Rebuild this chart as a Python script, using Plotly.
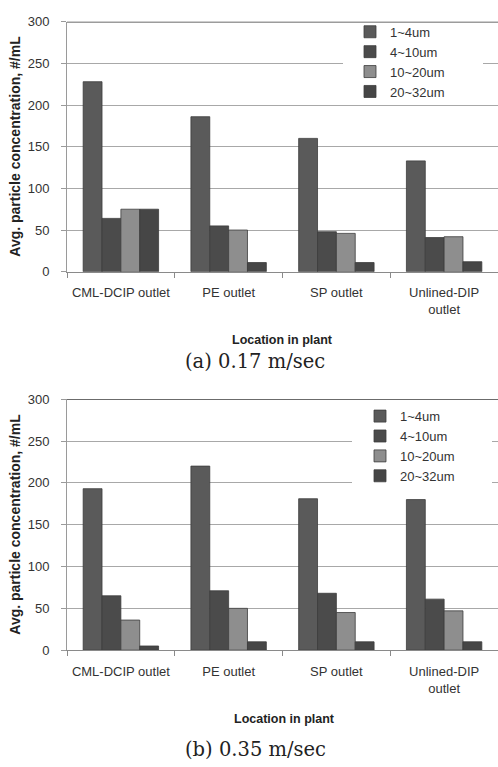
import plotly.graph_objects as go

categories = ["CML-DCIP outlet", "PE outlet", "SP outlet", "Unlined-DIP<br>outlet"]
series_names = ["1~4um", "4~10um", "10~20um", "20~32um"]

# (a) 0.17 m/sec
a_1_4 = [228, 186, 160, 133]
a_4_10 = [64, 55, 48, 41]
a_10_20 = [75, 50, 46, 42]
a_20_32 = [75, 11, 11, 12]

# (b) 0.35 m/sec
b_1_4 = [193, 220, 181, 180]
b_4_10 = [65, 71, 68, 61]
b_10_20 = [36, 50, 45, 47]
b_20_32 = [5, 10, 10, 10]

y_ticks = [0, 50, 100, 150, 200, 250, 300]
captions = ["(a) 0.17 m/sec", "(b) 0.35 m/sec"]

colors = ["#5a5a5a", "#4b4b4b", "#8e8e8e", "#464646"]

W, H = 498, 767
def py(px):
    return 1 - px / H
def px_(x):
    return x / W

fig = go.Figure()

panels = [
    ([a_1_4, a_4_10, a_10_20, a_20_32], "x", "y", "legend"),
    ([b_1_4, b_4_10, b_10_20, b_20_32], "x2", "y2", "legend2"),
]
for vals, xa, ya, lg in panels:
    for name, v, c in zip(series_names, vals, colors):
        fig.add_trace(go.Bar(
            x=categories, y=v, name=name, xaxis=xa, yaxis=ya, legend=lg,
            marker=dict(color=c, line=dict(color="#3c3c3c", width=0.8)),
        ))

font_sans = "Liberation Sans, Arial, sans-serif"

def xaxis_cfg(anchor):
    return dict(
        anchor=anchor, domain=[px_(67), 1.0], type="category",
        showline=True, linecolor="#8a8a8a", linewidth=1,
        ticks="outside", tickson="boundaries", ticklen=5, tickcolor="#8a8a8a",
        tickfont=dict(family=font_sans, size=13, color="#333333"),
        ticklabelstandoff=9, showgrid=False, fixedrange=True,
    )

def yaxis_cfg(anchor, top_px, bot_px):
    return dict(
        anchor=anchor, domain=[py(bot_px), py(top_px)], range=[0, 300],
        tickvals=y_ticks, showline=True, linecolor="#9a9a9a", linewidth=1,
        ticks="outside", ticklen=5, tickcolor="#9a9a9a",
        tickfont=dict(family=font_sans, size=13, color="#333333"),
        ticklabelstandoff=9, showgrid=True, gridcolor="#a8a8a8", gridwidth=1,
        zeroline=False, fixedrange=True,
    )

top_a, bot_a = 15, 270
top_b, bot_b = 400, 656

fig.update_layout(
    width=W, height=H, margin=dict(l=0, r=0, t=0, b=0),
    paper_bgcolor="white", plot_bgcolor="white",
    barmode="group", bargap=0.3, bargroupgap=0.0,
    xaxis=xaxis_cfg("y"), yaxis=yaxis_cfg("x", top_a, bot_a),
    xaxis2=xaxis_cfg("y2"), yaxis2=yaxis_cfg("x2", top_b, bot_b),
    legend=dict(x=px_(350), y=py(10), xanchor="left", yanchor="top",
                bgcolor="rgba(0,0,0,0)", font=dict(family=font_sans, size=13, color="#333333"),
                tracegroupgap=0),
    legend2=dict(x=px_(360), y=py(402), xanchor="left", yanchor="top",
                 bgcolor="rgba(0,0,0,0)", font=dict(family=font_sans, size=13, color="#333333"),
                 tracegroupgap=0),
    showlegend=True,
)

shapes = [
    # white legend backgrounds interrupting gridlines
    dict(type="rect", xref="paper", yref="paper", x0=px_(343), x1=px_(483), y0=py(97), y1=py(20),
         fillcolor="white", line=dict(width=0), layer="above"),
    dict(type="rect", xref="paper", yref="paper", x0=px_(352), x1=px_(492), y0=py(490), y1=py(403),
         fillcolor="white", line=dict(width=0), layer="above"),
    # dark top lines at 300
    dict(type="line", xref="x domain", yref="y", x0=0, x1=1, y0=300, y1=300,
         line=dict(color="#3a3a3a", width=1.5), layer="above"),
    dict(type="line", xref="x2 domain", yref="y2", x0=0, x1=1, y0=300, y1=300,
         line=dict(color="#3a3a3a", width=1.5), layer="above"),
]
fig.update_layout(shapes=shapes)

ytitle = "Avg. particle concentration, #/mL"
annotations = [
    dict(text="<b>" + ytitle + "</b>", x=px_(15), y=py((top_a + bot_a) / 2), textangle=-90, size=14),
    dict(text="<b>" + ytitle + "</b>", x=px_(15), y=py((top_b + bot_b) / 2), textangle=-90, size=14),
    dict(text="<b>Location in plant</b>", x=px_(282), y=py(340), size=12.5),
    dict(text="<b>Location in plant</b>", x=px_(284), y=py(726), size=12.5),
]
anns = []
for a in annotations:
    s = a.pop("size")
    a.update(xref="paper", yref="paper", showarrow=False, xanchor="center", yanchor="middle",
             font=dict(family=font_sans, size=s, color="#222222"))
    anns.append(a)
cap = [
    dict(text=captions[0], x=px_(255), y=py(362)),
    dict(text=captions[1], x=px_(255), y=py(757)),
]
for a in cap:
    a.update(xref="paper", yref="paper", showarrow=False, xanchor="center", yanchor="middle",
             font=dict(family="DejaVu Serif, serif", size=19.5, color="#222222"))
fig.update_layout(annotations=anns + cap)

fig.write_html("out.html", config={"displayModeBar": False},
               post_script="document.body.style.margin='0';document.body.style.overflow='hidden';")
